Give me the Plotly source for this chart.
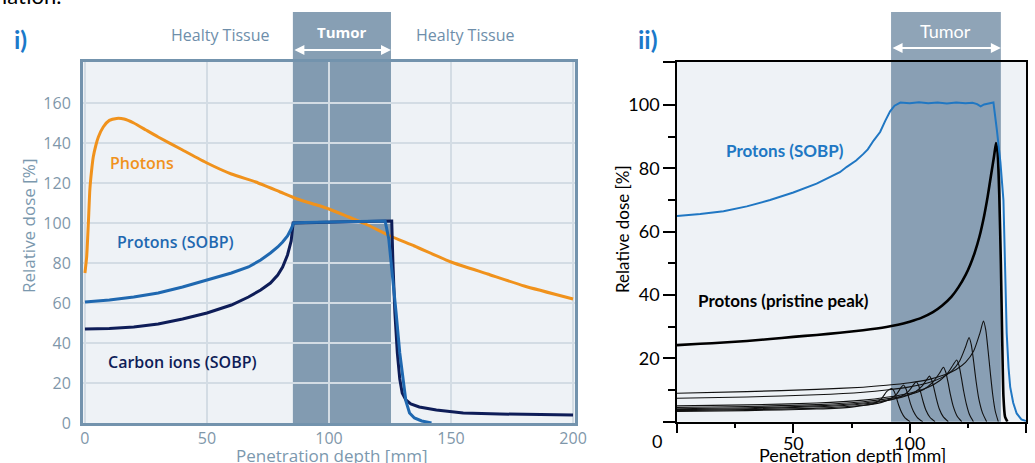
import plotly.graph_objects as go

W, H = 1035, 463

# ---------------- data: panel i ----------------
photon_x = [0, 0.7, 1.4, 2, 2.7, 3.4, 4.5, 5.5, 7.5, 10, 13, 16, 20, 25, 30, 40, 50, 60, 70, 80, 87, 95, 100, 108, 115, 125, 135, 150, 165, 180, 200]
photon_y = [75, 83, 100, 116.5, 126, 133, 139, 143, 148, 151.3, 152.3, 152, 150, 146.5, 143, 136.5, 130, 124.5, 120.5, 115.5, 112, 109, 107, 103, 99.5, 93.5, 88.5, 80.5, 74.5, 68.5, 62]

psobp1_x = [0, 10, 20, 30, 40, 50, 60, 67, 72, 76, 79, 81, 83, 84.5, 85.5, 90, 100, 110, 120, 123, 124.5, 126, 127.5, 129, 130.3, 131.5, 133, 135, 138, 142]
psobp1_y = [60.5, 61.5, 63, 65, 68, 71.5, 75, 78, 81.5, 85, 88, 90.5, 93.5, 97, 100, 100.3, 100.5, 100.7, 101, 101, 92, 75, 55, 35, 21.5, 11, 5, 2.5, 1, 0]

carbon_x = [0, 10, 20, 30, 40, 50, 60, 67, 72, 76, 79, 81, 83, 84.5, 85.3, 90, 100, 110, 120, 125.7, 126.2, 127, 128, 129, 130, 131.5, 133.5, 137, 144, 155, 170, 185, 200]
carbon_y = [47, 47.3, 48, 49.5, 52, 55, 59, 63, 66.5, 70, 74, 78, 84, 91, 100, 100.2, 100.4, 100.6, 100.8, 101, 80, 55, 35, 22, 15, 11.5, 9.5, 8, 6.5, 5, 4.5, 4.2, 4]

tumor_i = [85.2, 125.4]
xticks_i = [0, 50, 100, 150, 200]
yticks_i = [0, 20, 40, 60, 80, 100, 120, 140, 160]

# ---------------- data: panel ii ----------------
psobp2_x = [0, 10, 20, 30, 40, 50, 60, 66, 70, 73, 77, 80, 82, 84.5, 87.3, 89.5, 91.6, 93.5, 96, 100, 104, 108, 112, 116, 120, 124, 127, 129, 130.5, 132, 134, 136, 137.5, 139, 140.3, 141, 141.7, 142.5, 143.2, 144.5, 146, 148, 150]
psobp2_y = [65, 65.6, 66.5, 68, 70, 72.4, 75.2, 77.3, 78.8, 80.5, 82.5, 84.5, 86, 88.8, 91.5, 95, 98, 99.8, 100.8, 100.6, 100.9, 100.6, 100.8, 100.5, 100.8, 100.6, 100.7, 100.3, 99.6, 100.2, 100.5, 100.8, 92, 82, 70, 50, 28, 17, 11, 6, 2.6, 0.7, 0.2]

pristine_x = [0, 10, 20, 30, 40, 50, 60, 70, 80, 90, 95, 100, 105, 110, 114, 118, 121, 124, 126, 128, 130, 132, 133.5, 135, 136.3, 137.1, 137.8, 138.5, 139.2, 139.8, 140.3, 141, 142]
pristine_y = [24.2, 24.6, 25, 25.5, 26.1, 26.8, 27.4, 28.1, 28.9, 29.9, 30.6, 31.6, 32.8, 34.6, 36.7, 39.5, 42.5, 46.3, 49.5, 53.5, 58.5, 65, 71, 78, 84, 88, 85, 72, 50, 25, 8, 1.5, 0]

thin_peaks_x = [
    [0, 30, 60, 75, 85, 88, 90, 91.3, 92.3, 93.3, 94.3, 95.3, 96.5, 98, 100.2],
    [0, 30, 60, 80, 88, 92, 94.5, 96.2, 97.3, 98.3, 99.3, 100.3, 101.6, 103.3, 105.6],
    [0, 30, 60, 80, 90, 96, 99.5, 101.6, 102.8, 103.8, 104.8, 105.8, 107, 108.7, 110.9],
    [0, 30, 60, 80, 90, 97, 102, 105.3, 107.3, 108.5, 109.5, 110.5, 111.5, 112.7, 114.4, 116.6],
    [0, 30, 60, 80, 90, 100, 106, 110, 112.8, 114.5, 115.5, 116.5, 117.5, 118.7, 120.3, 122.4],
    [0, 30, 60, 80, 90, 100, 108, 113, 116.5, 118.7, 120.2, 121.2, 122.2, 123.2, 124.4, 125.8, 127.4],
    [0, 30, 60, 80, 90, 100, 108, 114, 118, 121.5, 124, 125.5, 126.5, 127.5, 128.5, 129.7, 131.3, 133.1],
    [0, 30, 60, 80, 90, 100, 108, 115, 120, 124, 127.5, 130.2, 131.7, 132.7, 133.7, 134.7, 135.7, 136.8, 138.1],
]
thin_peaks_y = [
    [3.2, 3.5, 4.0, 4.6, 5.8, 7.4, 9.4, 10.2, 10.5, 9.6, 7.6, 5.2, 3.0, 1.2, 0],
    [3.5, 3.8, 4.3, 5.2, 6.1, 7.3, 8.8, 10.7, 11.6, 10.6, 8.4, 5.8, 3.3, 1.3, 0],
    [3.8, 4.1, 4.7, 5.6, 6.6, 7.9, 9.6, 11.6, 12.6, 11.5, 9.1, 6.3, 3.6, 1.4, 0],
    [4.1, 4.4, 5.0, 5.9, 6.8, 7.8, 9.2, 11.2, 13.3, 14.4, 13.1, 10.4, 7.2, 4.1, 1.6, 0],
    [4.5, 4.8, 5.4, 6.3, 7.2, 8.6, 10.2, 12.5, 15.3, 17.2, 15.7, 12.4, 8.6, 4.9, 1.9, 0],
    [5.0, 5.3, 5.9, 6.8, 7.7, 9.0, 10.9, 13.0, 15.5, 18.0, 19.5, 17.8, 14.0, 9.7, 5.5, 2.1, 0],
    [7.4, 7.8, 8.5, 9.3, 10.0, 11.0, 12.3, 14.0, 16.0, 19.2, 23.6, 26.6, 24.3, 19.0, 13.0, 7.3, 2.8, 0],
    [9.0, 9.5, 10.2, 10.9, 11.5, 12.3, 13.3, 14.8, 16.5, 18.7, 22.3, 28.0, 31.8, 29.0, 22.5, 15.2, 8.5, 3.3, 0],
]

tumor_ii = [92.0, 139.2]
xticks_ii = [0, 50, 100, 150]
xticktext_ii = ["", "50", "100", "150"]
yticks_ii = [0, 20, 40, 60, 80, 100, 113.7]
yticktext_ii = ["", "20", "40", "60", "80", "100", ""]

# ---------------- helpers ----------------
def px(x):
    return x / W

def py(y):
    return 1 - y / H

F1 = "Open Sans"
F2 = "Lato"
ORANGE = "#f0921c"
BLUE_I = "#1f68b0"
NAVY = "#0e1d58"
BLUE_II = "#2077c3"
STEEL = "#7393ad"
TICK_I = "#7f97aa"

fig = go.Figure()

# panel i traces
fig.add_trace(go.Scatter(x=photon_x, y=photon_y, mode="lines", line=dict(color=ORANGE, width=3, shape="spline", smoothing=0.5), xaxis="x", yaxis="y"))
fig.add_trace(go.Scatter(x=carbon_x, y=carbon_y, mode="lines", line=dict(color=NAVY, width=3), xaxis="x", yaxis="y"))
fig.add_trace(go.Scatter(x=psobp1_x, y=psobp1_y, mode="lines", line=dict(color=BLUE_I, width=3), xaxis="x", yaxis="y"))

# panel ii traces
for tx, ty in zip(thin_peaks_x, thin_peaks_y):
    fig.add_trace(go.Scatter(x=tx, y=ty, mode="lines", line=dict(color="#111111", width=1.1, shape="spline", smoothing=0.6), xaxis="x2", yaxis="y2"))
fig.add_trace(go.Scatter(x=pristine_x, y=pristine_y, mode="lines", line=dict(color="#000000", width=2.6, shape="spline", smoothing=0.5), xaxis="x2", yaxis="y2"))
fig.add_trace(go.Scatter(x=psobp2_x, y=psobp2_y, mode="lines", line=dict(color=BLUE_II, width=2), xaxis="x2", yaxis="y2"))

dom_i_x = [px(83), px(575)]
dom_i_y = [py(423), py(62)]
dom_ii_x = [px(677), px(1026)]
dom_ii_y = [py(421.7), py(61.7)]

fig.update_layout(
    width=W, height=H, margin=dict(l=0, r=0, t=0, b=0),
    paper_bgcolor="white", showlegend=False,
    xaxis=dict(domain=dom_i_x, range=[-0.8, 200.8], anchor="y", tickvals=xticks_i,
               showgrid=True, gridcolor="#d3dce4", gridwidth=1.5, zeroline=False,
               showline=True, linecolor=STEEL, linewidth=3, mirror=True, ticks="",
               tickfont=dict(family=F1, size=16, color=TICK_I), ticklabelstandoff=-1, automargin=False),
    yaxis=dict(domain=dom_i_y, range=[0, 180.5], anchor="x", tickvals=yticks_i,
               showgrid=True, gridcolor="#d3dce4", gridwidth=1.5, zeroline=False,
               showline=True, linecolor=STEEL, linewidth=3, mirror=True, ticks="",
               tickfont=dict(family=F1, size=16, color=TICK_I), ticklabelstandoff=6, automargin=False),
    xaxis2=dict(domain=dom_ii_x, range=[0, 150], anchor="y2", tickvals=xticks_ii, ticktext=xticktext_ii,
                showgrid=False, zeroline=False, showline=True, linecolor="black", linewidth=1.5, mirror=True,
                ticks="outside", ticklen=10, tickwidth=1.5, tickcolor="black",
                minor=dict(tickvals=[25, 75, 125], ticks="outside", ticklen=5, tickwidth=1.5, tickcolor="black", showgrid=False),
                tickfont=dict(family=F2, size=18, color="black"), ticklabelstandoff=-5, automargin=False),
    yaxis2=dict(domain=dom_ii_y, range=[0, 113.7], anchor="x2", tickvals=yticks_ii, ticktext=yticktext_ii,
                showgrid=False, zeroline=False, showline=True, linecolor="black", linewidth=1.5, mirror=True,
                ticks="outside", ticklen=12, tickwidth=1.5, tickcolor="black",
                minor=dict(tickvals=[10, 30, 50, 70, 90], ticks="outside", ticklen=7, tickwidth=1.5, tickcolor="black", showgrid=False),
                tickfont=dict(family=F2, size=18, color="black"), automargin=False),
    plot_bgcolor="#eef2f6",
)

# tumor bands
fig.add_shape(type="rect", xref="x", yref="paper", x0=tumor_i[0], x1=tumor_i[1], y0=dom_i_y[0], y1=py(12),
              fillcolor="rgba(78,113,145,0.68)", line=dict(width=0), layer="between")
fig.add_shape(type="rect", xref="x2", yref="paper", x0=tumor_ii[0], x1=tumor_ii[1], y0=dom_ii_y[0], y1=py(12),
              fillcolor="rgba(80,112,142,0.64)", line=dict(width=0), layer="between")

ann = []
def text(t, x, y, size, color, family, xref="paper", yref="paper", weight="normal", angle=0, xanchor="center", yanchor="middle"):
    ann.append(dict(text=t, x=x, y=y, xref=xref, yref=yref, showarrow=False, textangle=angle,
                    xanchor=xanchor, yanchor=yanchor,
                    font=dict(family=family, size=size, color=color, weight=weight)))

# top clipped document text
text("iation.", px(0), py(11), 22, "black", F2, xanchor="left", yanchor="bottom")

# panel labels
text("i)", px(20), py(39), 25, "#1b79c9", F2, weight="bold")
text("ii)", px(648), py(39), 25, "#1b79c9", F2, weight="bold")

# panel i header labels
text("Healty Tissue", px(220), py(35), 16, "#6e8eaa", F1)
text("Healty Tissue", px(465), py(35), 16, "#6e8eaa", F1)
text("Tumor", px(342), py(32), 15, "white", F1, weight="bold")
text("Tumor", px(945), py(31), 18, "white", F2)

# arrows
for xr, tm, yy in (("x", tumor_i, py(50)), ("x2", tumor_ii, py(48))):
    ann.append(dict(text="", x=tm[1], y=yy, xref=xr, yref="paper", ax=tm[0], ay=0, axref=xr, ayref="pixel",
                    showarrow=True, arrowside="end+start", arrowhead=2, startarrowhead=2,
                    arrowsize=1, startarrowsize=1, arrowwidth=2, arrowcolor="white", standoff=0, startstandoff=0))

# curve labels panel i
text("Photons", 23.4, 130, 16, ORANGE, F1, xref="x", yref="y", weight=600)
text("Protons (SOBP)", 37.3, 90.5, 16, BLUE_I, F1, xref="x", yref="y", weight=600)
text("Carbon ions (SOBP)", 39.8, 30.5, 16, NAVY, F1, xref="x", yref="y", weight=600)

# curve labels panel ii
text("Protons (SOBP)", 46.4, 85.5, 17, BLUE_II, F2, xref="x2", yref="y2", weight="bold")
text("Protons (pristine peak)", 45.6, 38.4, 17, "black", F2, xref="x2", yref="y2", weight="bold")

# axis titles
text("Relative dose [%]", px(28), py(226), 17, "#7b98ae", F1, angle=-90)
text("Penetration depth [mm]", px(331), py(455), 17, "#7b98ae", F1)
text("Relative dose [%]", px(622), py(229), 17, "black", F2, angle=-90)
text("Penetration depth [mm]", px(852), py(455), 18, "black", F2)
text("0", px(656.7), py(441), 18, "black", F2)

fig.update_layout(annotations=ann)

fig.write_html("out.html", config={"displayModeBar": False})
